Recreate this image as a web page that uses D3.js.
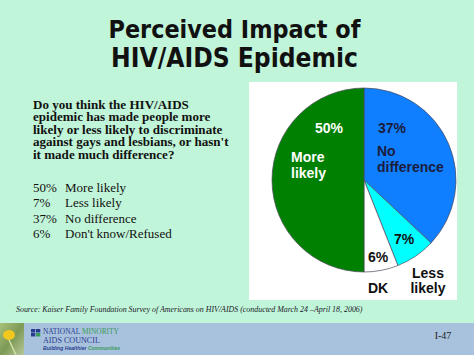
<!DOCTYPE html>
<html><head><meta charset="utf-8">
<script src="https://cdn.jsdelivr.net/npm/d3@7"></script>
<style>html,body{margin:0;padding:0;background:#c1f5d9;}svg{display:block;}</style>
</head><body>
<script>
const categories = ["No difference", "Less likely", "DK", "More likely"];
const values = [37, 7, 6, 50];
const sliceColors = ["#0f7fff", "#00ffff", "#ffffff", "#008000"];
const titleLines = ["Perceived Impact of", "HIV/AIDS Epidemic"];
const questionLines = ["Do you think the HIV/AIDS", "epidemic has made people more", "likely or less likely to discriminate", "against gays and lesbians, or hasn't", "it made much difference?"];
const listPct = ["50%", "7%", "37%", "6%"];
const listLabels = ["More likely", "Less likely", "No difference", "Don't know/Refused"];
const sourceText = "Source: Kaiser Family Foundation Survey of Americans on HIV/AIDS (conducted March 24 \u2013April 18, 2006)";
const pageLabel = "I-47";

const W = 474, H = 355;
const svg = d3.select("body").append("svg").attr("width", W).attr("height", H);
svg.append("rect").attr("width", W).attr("height", H).attr("fill", "#c1f5d9");

function fitText(sel, target) {
  const n = sel.node(); const w = n.getComputedTextLength();
  const fs = parseFloat(sel.attr("font-size"));
  sel.attr("font-size", (fs * target / w).toFixed(2));
}

// Title
const titleBase = [38, 67], titleW = [252, 247];
titleLines.forEach((t, i) => {
  const s = svg.append("text").attr("x", 234.5).attr("y", titleBase[i]).attr("text-anchor", "middle")
    .attr("font-family", "'DejaVu Sans Condensed','DejaVu Sans',sans-serif").attr("font-weight", "bold")
    .attr("font-size", 24).attr("fill", "#111").text(t);
  fitText(s, titleW[i]);
});

// Question
const q = svg.append("g").attr("font-family", "'Liberation Serif','Times New Roman',serif")
  .attr("font-weight", "bold").attr("fill", "#111");
questionLines.forEach((t, i) => {
  const s = q.append("text").attr("x", 33).attr("y", 108.5 + i * 12.6).attr("font-size", 13).text(t);
  if (i === 0) fitText(s, 156);
});
const qfs = q.select("text").attr("font-size");
q.selectAll("text").attr("font-size", qfs);

// List
const l = svg.append("g").attr("font-family", "'Liberation Serif','Times New Roman',serif")
  .attr("font-size", 13).attr("fill", "#111");
listPct.forEach((p, i) => {
  const y = 192 + i * 15.4;
  l.append("text").attr("x", 33).attr("y", y).text(p);
  l.append("text").attr("x", 65).attr("y", y).text(listLabels[i]);
});

// Pie box
svg.append("rect").attr("x", 249).attr("y", 82).attr("width", 208).attr("height", 218).attr("fill", "#ffffff");

const cx = 364, cy = 180, r = 92;
const pie = d3.pie().sort(null).value(d => d)(values);
const arc = d3.arc().innerRadius(0).outerRadius(r);
const pg = svg.append("g").attr("transform", `translate(${cx},${cy})`);
pg.selectAll("path").data(pie).join("path").attr("d", arc)
  .attr("fill", (d, i) => sliceColors[i]).attr("stroke", "#4a4a5a").attr("stroke-width", 0.7);

// Pie labels (relative to center)
const lab = pg.append("g").attr("font-family", "'Liberation Sans',Arial,sans-serif").attr("font-weight", "bold").attr("font-size", 14);
const pieLabels = [
  {t: ["37%"], x: 28, y: [-47], a: "middle", c: "#1c1c3c"},
  {t: ["No", "difference"], x: 13, y: [-24, -8], a: "start", c: "#1c1c3c"},
  {t: ["7%"], x: 40, y: [64], a: "middle", c: "#111"},
  {t: ["Less", "likely"], x: 64, y: [98, 113], a: "middle", c: "#111"},
  {t: ["6%"], x: 14, y: [82], a: "middle", c: "#111"},
  {t: ["DK"], x: 14, y: [113], a: "middle", c: "#111"},
  {t: ["50%"], x: -35, y: [-47], a: "middle", c: "#ffffff"},
  {t: ["More", "likely"], x: -73, y: [-18, -2], a: "start", c: "#ffffff"}
];
pieLabels.forEach(d => d.t.forEach((t, j) => {
  lab.append("text").attr("x", d.x).attr("y", d.y[j]).attr("text-anchor", d.a).attr("fill", d.c).text(t);
}));

// Source
const src = svg.append("text").attr("x", 16).attr("y", 312).attr("font-family", "'Liberation Serif',serif")
  .attr("font-style", "italic").attr("font-size", 8).attr("fill", "#1a1a2a").text(sourceText);
fitText(src, 347);

// Footer
svg.append("rect").attr("x", 0).attr("y", 323).attr("width", W).attr("height", 32).attr("fill", "#a8c2de");
const fg = svg.append("defs").append("linearGradient").attr("id", "fl").attr("x1", 0).attr("y1", 0).attr("x2", 1).attr("y2", 1);
fg.append("stop").attr("offset", 0).attr("stop-color", "#a9c27a");
fg.append("stop").attr("offset", 0.5).attr("stop-color", "#7d9a55");
fg.append("stop").attr("offset", 1).attr("stop-color", "#b7c79a");
svg.append("rect").attr("x", 0).attr("y", 323).attr("width", 24).attr("height", 32).attr("fill", "url(#fl)");
svg.append("ellipse").attr("cx", 9).attr("cy", 335).attr("rx", 6).attr("ry", 5).attr("fill", "#f2c81e");
svg.append("line").attr("x1", 9).attr("y1", 340).attr("x2", 16).attr("y2", 355).attr("stroke", "#cfe0a8").attr("stroke-width", 1.5);

// Logo squares
[[31,329,"#2a3c8f"],[36,329,"#2a3c8f"],[31,333,"#2a3c8f"],[36,333,"#3a9a5a"]].forEach(s => {
  svg.append("rect").attr("x", s[0]).attr("y", s[1]).attr("width", 4.3).attr("height", 3.5).attr("fill", s[2]);
});
const lg = svg.append("text").attr("x", 43).attr("y", 334).attr("font-family", "'Liberation Serif',serif").attr("font-size", 7.5);
lg.append("tspan").attr("fill", "#2a3c8f").text("NATIONAL ");
lg.append("tspan").attr("fill", "#3a9a5a").text("MINORITY");
fitText(lg, 76);
const lg2 = svg.append("text").attr("x", 43).attr("y", 343).attr("font-family", "'Liberation Serif',serif").attr("font-size", 8.5).attr("fill", "#2a3c8f").text("AIDS COUNCIL");
fitText(lg2, 57);
const lg3 = svg.append("text").attr("x", 43).attr("y", 350).attr("font-family", "'Liberation Sans',sans-serif").attr("font-style", "italic").attr("font-weight", "bold").attr("font-size", 4);
lg3.append("tspan").attr("fill", "#2a3c8f").text("Building Healthier ");
lg3.append("tspan").attr("fill", "#3a9a5a").text("Communities");
fitText(lg3, 77);

svg.append("text").attr("x", 443).attr("y", 339).attr("text-anchor", "middle").attr("font-family", "'Liberation Serif',serif")
  .attr("font-size", 10).attr("fill", "#222").text(pageLabel);
</script>
</body></html>
